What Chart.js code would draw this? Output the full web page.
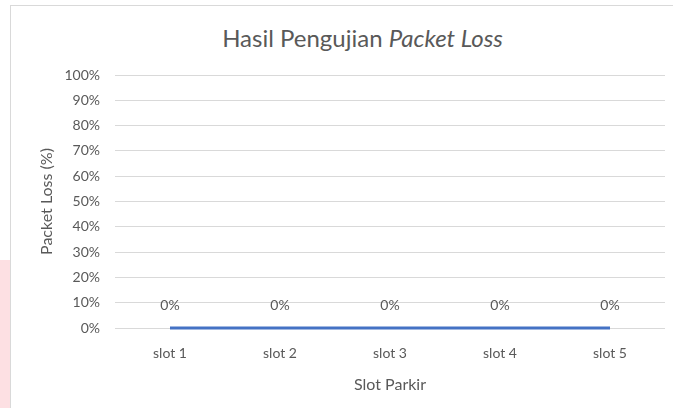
<!DOCTYPE html>
<html>
<head>
<meta charset="utf-8">
<script src="https://cdn.jsdelivr.net/npm/chart.js@4"></script>
<style>
  html, body { margin: 0; padding: 0; background: #fff; }
  #wrap { position: relative; width: 673px; height: 408px; overflow: hidden; }
  #pita { position: absolute; left: 0; top: 260px; width: 10px; height: 148px; background: #fde0e3; }
  #bingkai { position: absolute; left: 10px; top: 5px; width: 680px; height: 420px; border: 1px solid #d9d9d9; box-sizing: border-box; }
  #judul { position: absolute; left: 0; top: 23px; width: 725px; text-align: center; line-height: normal;
    font-family: Lato, "Open Sans", sans-serif; font-size: 24px; color: #595959; }
  canvas { position: absolute; left: 0; top: 0; }
</style>
</head>
<body>
<div id="wrap">
  <div id="pita"></div>
  <div id="bingkai"></div>
  <div id="judul">Hasil Pengujian <i>Packet Loss</i></div>
  <canvas id="grafik" width="673" height="408"></canvas>
</div>
<script>
// Data grafik
const slot = ['slot 1', 'slot 2', 'slot 3', 'slot 4', 'slot 5'];
const packetLoss = [0, 0, 0, 0, 0];
const tickY = [0, 10, 20, 30, 40, 50, 60, 70, 80, 90, 100];

const abuTeks = '#595959';
const fontDasar = 'Lato, "Open Sans", sans-serif';

// Plugin label nilai di atas titik
const labelNilai = {
  id: 'labelNilai',
  afterDatasetsDraw(chart) {
    const ctx = chart.ctx;
    const meta = chart.getDatasetMeta(0);
    ctx.save();
    ctx.font = '14px ' + fontDasar;
    ctx.fillStyle = abuTeks;
    ctx.textAlign = 'center';
    ctx.textBaseline = 'middle';
    meta.data.forEach((pt, i) => {
      ctx.fillText(packetLoss[i] + '%', pt.x, pt.y - 23);
    });
    ctx.restore();
  },
};

new Chart(document.getElementById('grafik'), {
  type: 'line',
  data: {
    labels: slot,
    datasets: [{
      label: 'Packet Loss',
      data: packetLoss,
      borderColor: '#4472C4',
      borderWidth: 3,
      pointRadius: 0,
      tension: 0,
      clip: 4,
    }],
  },
  options: {
    responsive: false,
    animation: false,
    layout: { padding: { left: 33, right: 8, top: 75, bottom: 10 } },
    plugins: {
      legend: { display: false },
      tooltip: { enabled: false },
    },
    scales: {
      x: {
        offset: true,
        grid: { display: false },
        border: { display: false },
        ticks: { color: abuTeks, font: { family: fontDasar, size: 14 }, padding: 9 },
        title: { display: true, text: 'Slot Parkir', color: abuTeks, font: { family: fontDasar, size: 16 } },
        afterFit(s) { s.height = 70; },
      },
      y: {
        min: 0,
        max: 100,
        afterBuildTicks(s) { s.ticks = tickY.map((v) => ({ value: v })); },
        grid: { color: '#d9d9d9', drawTicks: false },
        border: { display: false },
        ticks: {
          color: abuTeks,
          font: { family: fontDasar, size: 14 },
          padding: 15,
          callback: (v) => v + '%',
        },
        title: { display: true, text: 'Packet Loss (%)', color: abuTeks, font: { family: fontDasar, size: 16 } },
        afterFit(s) { s.width = 82; },
      },
    },
  },
  plugins: [labelNilai],
});
</script>
</body>
</html>
